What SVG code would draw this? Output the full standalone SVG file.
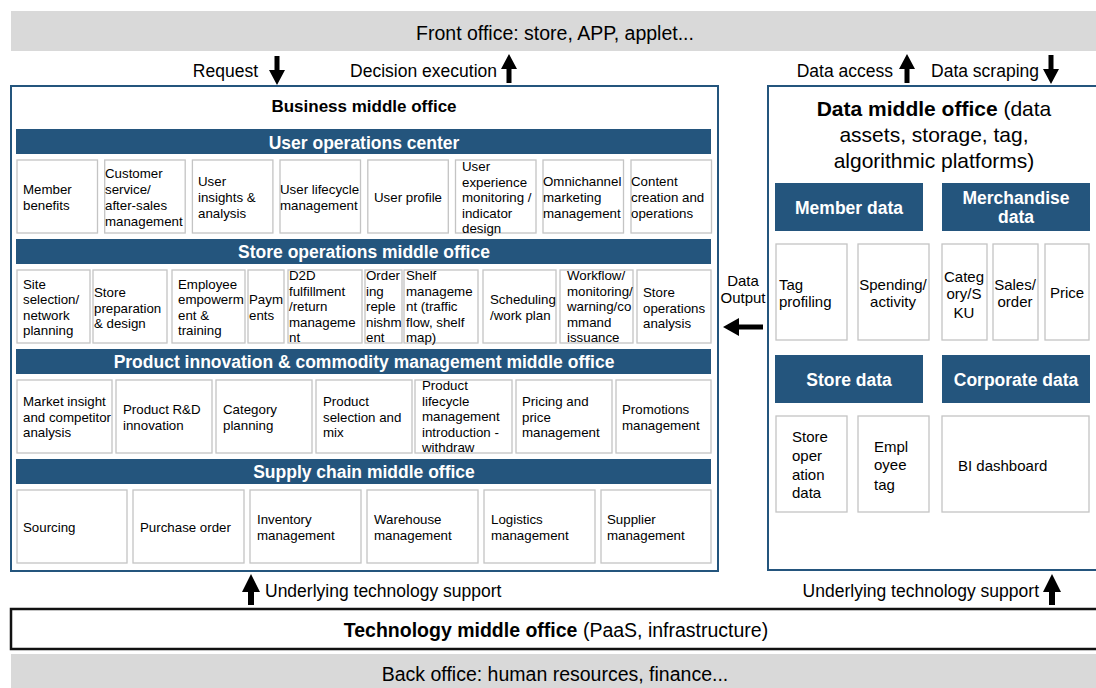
<svg xmlns="http://www.w3.org/2000/svg" width="1096" height="688" viewBox="0 0 1096 688">
<style>
text{font-family:"Liberation Sans",Arial,Helvetica,sans-serif;fill:#000}
.band{fill:#d9d9d9}
.frame{fill:#fff;stroke:#24557d;stroke-width:2}
.hdr{fill:#24557d}
.ht{font-size:17.5px;font-weight:bold;fill:#fff;text-anchor:middle}
.cell{fill:#fff;stroke:#c4c4c4;stroke-width:1.3}
.t{font-size:13.3px}
.d{font-size:15px}
.lbl{font-size:17.5px}
.big{font-size:19.5px}
.arr{fill:#000}
</style>

<g id="front-office">
<rect class="band" x="11" y="11" width="1090" height="40"/>
<text class="big" x="555" y="40" text-anchor="middle">Front office: store, APP, applet...</text>
</g>

<g id="business-middle-office">
<rect class="frame" x="11" y="86" width="707" height="485"/>
<text x="364" y="112" font-size="17px" font-weight="bold" text-anchor="middle">Business middle office</text>
</g>

<g id="user-operations-center">
<rect class="hdr" x="16" y="129" width="695" height="25"/>
<text class="ht" x="364" y="149">User operations center</text>
</g>
<g id="uoc-cells">
<g id="member-benefits"><rect class="cell" x="17" y="160" width="80.5" height="73"/><text class="t"><tspan x="23" y="194">Member</tspan><tspan x="23" y="210">benefits</tspan></text></g>
<g id="customer-service"><rect class="cell" x="104.7" y="160" width="80.5" height="73"/><text class="t"><tspan x="105" y="178">Customer</tspan><tspan x="105" y="194">service/</tspan><tspan x="105" y="210">after-sales</tspan><tspan x="105" y="226">management</tspan></text></g>
<g id="user-insights"><rect class="cell" x="192.4" y="160" width="80.5" height="73"/><text class="t"><tspan x="198" y="186">User</tspan><tspan x="198" y="202">insights &amp;</tspan><tspan x="198" y="218">analysis</tspan></text></g>
<g id="user-lifecycle"><rect class="cell" x="280" y="160" width="80.5" height="73"/><text class="t"><tspan x="280" y="194">User lifecycle</tspan><tspan x="280" y="210">management</tspan></text></g>
<g id="user-profile"><rect class="cell" x="367.8" y="160" width="80.5" height="73"/><text class="t" x="374" y="202">User profile</text></g>
<g id="user-experience"><rect class="cell" x="455.5" y="160" width="80.5" height="73"/><text class="t"><tspan x="462" y="171">User</tspan><tspan x="462" y="186.5">experience</tspan><tspan x="462" y="202">monitoring /</tspan><tspan x="462" y="217.5">indicator</tspan><tspan x="462" y="233">design</tspan></text></g>
<g id="omnichannel"><rect class="cell" x="543" y="160" width="80.5" height="73"/><text class="t"><tspan x="543" y="186">Omnichannel</tspan><tspan x="543" y="202">marketing</tspan><tspan x="543" y="218">management</tspan></text></g>
<g id="content-creation"><rect class="cell" x="631" y="160" width="80.5" height="73"/><text class="t"><tspan x="631" y="186">Content</tspan><tspan x="631" y="202">creation and</tspan><tspan x="631" y="218">operations</tspan></text></g>
</g>

<g id="store-operations-middle-office">
<rect class="hdr" x="16" y="239" width="695" height="25"/>
<text class="ht" x="364" y="258">Store operations middle office</text>
</g>
<g id="som-cells">
<g id="site-selection"><rect class="cell" x="17" y="270" width="73" height="73"/><text class="t"><tspan x="23" y="288.5">Site</tspan><tspan x="23" y="304">selection/</tspan><tspan x="23" y="319.5">network</tspan><tspan x="23" y="335">planning</tspan></text></g>
<g id="store-preparation"><rect class="cell" x="93" y="270" width="74" height="73"/><text class="t"><tspan x="94" y="297">Store</tspan><tspan x="94" y="312.5">preparation</tspan><tspan x="94" y="328">&amp; design</tspan></text></g>
<g id="employee-empowerment"><rect class="cell" x="172" y="270" width="73" height="73"/><text class="t"><tspan x="178" y="288.5">Employee</tspan><tspan x="178" y="304">empowerm</tspan><tspan x="178" y="319.5">ent &amp;</tspan><tspan x="178" y="335">training</tspan></text></g>
<g id="payments"><rect class="cell" x="248" y="270" width="36" height="73"/><text class="t"><tspan x="249" y="304">Paym</tspan><tspan x="249" y="319.5">ents</tspan></text></g>
<g id="d2d"><rect class="cell" x="288" y="270" width="74" height="73"/><text class="t"><tspan x="289" y="280">D2D</tspan><tspan x="289" y="295.5">fulfillment</tspan><tspan x="289" y="311">/return</tspan><tspan x="289" y="326.5">manageme</tspan><tspan x="289" y="342">nt</tspan></text></g>
<g id="ordering"><rect class="cell" x="365" y="270" width="37" height="73"/><text class="t"><tspan x="366" y="280">Order</tspan><tspan x="366" y="295.5">ing</tspan><tspan x="366" y="311">reple</tspan><tspan x="366" y="326.5">nishm</tspan><tspan x="366" y="342">ent</tspan></text></g>
<g id="shelf"><rect class="cell" x="404" y="270" width="74" height="73"/><text class="t"><tspan x="406" y="280">Shelf</tspan><tspan x="406" y="295.5">manageme</tspan><tspan x="406" y="311">nt (traffic</tspan><tspan x="406" y="326.5">flow, shelf</tspan><tspan x="406" y="342">map)</tspan></text></g>
<g id="scheduling"><rect class="cell" x="483" y="270" width="73" height="73"/><text class="t"><tspan x="490" y="304">Scheduling</tspan><tspan x="490" y="319.5">/work plan</tspan></text></g>
<g id="workflow"><rect class="cell" x="560" y="270" width="73" height="73"/><text class="t"><tspan x="567" y="280">Workflow/</tspan><tspan x="567" y="295.5">monitoring/</tspan><tspan x="567" y="311">warning/co</tspan><tspan x="567" y="326.5">mmand</tspan><tspan x="567" y="342">issuance</tspan></text></g>
<g id="store-operations-analysis"><rect class="cell" x="637" y="270" width="74" height="73"/><text class="t"><tspan x="643" y="297">Store</tspan><tspan x="643" y="312.5">operations</tspan><tspan x="643" y="328">analysis</tspan></text></g>
</g>

<g id="product-innovation-middle-office">
<rect class="hdr" x="16" y="349" width="695" height="25"/>
<text class="ht" x="364" y="368">Product innovation &amp; commodity management middle office</text>
</g>
<g id="pim-cells">
<g id="market-insight"><rect class="cell" x="17" y="380" width="95" height="73"/><text class="t"><tspan x="23" y="406">Market insight</tspan><tspan x="23" y="421.5">and competitor</tspan><tspan x="23" y="437">analysis</tspan></text></g>
<g id="product-rd"><rect class="cell" x="116" y="380" width="96" height="73"/><text class="t"><tspan x="123" y="414">Product R&amp;D</tspan><tspan x="123" y="429.5">innovation</tspan></text></g>
<g id="category-planning"><rect class="cell" x="216" y="380" width="96" height="73"/><text class="t"><tspan x="223" y="414">Category</tspan><tspan x="223" y="429.5">planning</tspan></text></g>
<g id="product-selection"><rect class="cell" x="316" y="380" width="96" height="73"/><text class="t"><tspan x="323" y="406">Product</tspan><tspan x="323" y="421.5">selection and</tspan><tspan x="323" y="437">mix</tspan></text></g>
<g id="product-lifecycle"><rect class="cell" x="415" y="380" width="97" height="73"/><text class="t"><tspan x="422" y="390">Product</tspan><tspan x="422" y="405.5">lifecycle</tspan><tspan x="422" y="421">management</tspan><tspan x="422" y="436.5">introduction -</tspan><tspan x="422" y="452">withdraw</tspan></text></g>
<g id="pricing"><rect class="cell" x="516" y="380" width="96" height="73"/><text class="t"><tspan x="522" y="406">Pricing and</tspan><tspan x="522" y="421.5">price</tspan><tspan x="522" y="437">management</tspan></text></g>
<g id="promotions"><rect class="cell" x="616" y="380" width="95" height="73"/><text class="t"><tspan x="622" y="414">Promotions</tspan><tspan x="622" y="429.5">management</tspan></text></g>
</g>

<g id="supply-chain-middle-office">
<rect class="hdr" x="16" y="459" width="695" height="25"/>
<text class="ht" x="364" y="478">Supply chain middle office</text>
</g>
<g id="scm-cells">
<g id="sourcing"><rect class="cell" x="17" y="490" width="110" height="73"/><text class="t" x="23" y="532">Sourcing</text></g>
<g id="purchase-order"><rect class="cell" x="133" y="490" width="111" height="73"/><text class="t" x="140" y="532">Purchase order</text></g>
<g id="inventory"><rect class="cell" x="250" y="490" width="111" height="73"/><text class="t"><tspan x="257" y="524">Inventory</tspan><tspan x="257" y="539.5">management</tspan></text></g>
<g id="warehouse"><rect class="cell" x="367" y="490" width="111" height="73"/><text class="t"><tspan x="374" y="524">Warehouse</tspan><tspan x="374" y="539.5">management</tspan></text></g>
<g id="logistics"><rect class="cell" x="484" y="490" width="111" height="73"/><text class="t"><tspan x="491" y="524">Logistics</tspan><tspan x="491" y="539.5">management</tspan></text></g>
<g id="supplier"><rect class="cell" x="601" y="490" width="110" height="73"/><text class="t"><tspan x="607" y="524">Supplier</tspan><tspan x="607" y="539.5">management</tspan></text></g>
</g>

<g id="data-middle-office">
<rect class="frame" x="768" y="86" width="340" height="484"/>
<text font-size="21px" text-anchor="middle"><tspan x="934" y="116"><tspan font-weight="bold">Data middle office</tspan> (data</tspan><tspan x="934" y="142">assets, storage, tag,</tspan><tspan x="934" y="168">algorithmic platforms)</tspan></text>
</g>
<g id="member-data"><rect class="hdr" x="775" y="183" width="148" height="48"/><text class="ht" x="849" y="214">Member data</text></g>
<g id="merchandise-data"><rect class="hdr" x="942" y="183" width="148" height="48"/><text class="ht"><tspan x="1016" y="204">Merchandise</tspan><tspan x="1016" y="223">data</tspan></text></g>
<g id="tag-profiling"><rect class="cell" x="776" y="244" width="71" height="96"/><text class="d"><tspan x="779" y="290">Tag</tspan><tspan x="779" y="307">profiling</tspan></text></g>
<g id="spending"><rect class="cell" x="858" y="244" width="71" height="96"/><text class="d" text-anchor="middle"><tspan x="893" y="290">Spending/</tspan><tspan x="893" y="307">activity</tspan></text></g>
<g id="category-sku"><rect class="cell" x="942" y="244" width="45" height="96"/><text class="d" text-anchor="middle"><tspan x="964" y="282">Categ</tspan><tspan x="964" y="299">ory/S</tspan><tspan x="964" y="318">KU</tspan></text></g>
<g id="sales-order"><rect class="cell" x="993" y="244" width="45" height="96"/><text class="d" text-anchor="middle"><tspan x="1015" y="290">Sales/</tspan><tspan x="1015" y="307">order</tspan></text></g>
<g id="price"><rect class="cell" x="1045" y="244" width="44" height="96"/><text class="d" x="1067" y="298" text-anchor="middle">Price</text></g>
<g id="store-data"><rect class="hdr" x="775" y="355" width="148" height="48"/><text class="ht" x="849" y="386">Store data</text></g>
<g id="corporate-data"><rect class="hdr" x="942" y="355" width="148" height="48"/><text class="ht" x="1016" y="386">Corporate data</text></g>
<g id="store-operation-data"><rect class="cell" x="776" y="416" width="71" height="96"/><text class="d"><tspan x="792" y="442">Store</tspan><tspan x="792" y="461">oper</tspan><tspan x="792" y="480">ation</tspan><tspan x="792" y="498">data</tspan></text></g>
<g id="employee-tag"><rect class="cell" x="858" y="416" width="71" height="96"/><text class="d"><tspan x="874" y="452">Empl</tspan><tspan x="874" y="470">oyee</tspan><tspan x="874" y="490">tag</tspan></text></g>
<g id="bi-dashboard"><rect class="cell" x="942" y="416" width="147" height="96"/><text class="d" x="958" y="471">BI dashboard</text></g>

<g id="technology-middle-office">
<rect x="11" y="609" width="1100" height="40" fill="#fff" stroke="#111" stroke-width="2.5"/>
<text font-size="19.5px" x="556" y="637" text-anchor="middle"><tspan font-weight="bold">Technology middle office</tspan> (PaaS, infrastructure)</text>
</g>

<g id="back-office">
<rect class="band" x="11" y="654" width="1090" height="40"/>
<text class="big" x="555" y="681" text-anchor="middle">Back office: human resources, finance...</text>
</g>

<g id="connectors">
<path class="arr" d="M274.5 56H279.5V70H285L277 85L269 70H274.5Z"/>
<text class="lbl" x="258" y="77" text-anchor="end">Request</text>
<path class="arr" d="M506.5 83H511.5V69H517L509 54L501 69H506.5Z"/>
<text class="lbl" x="497" y="77" text-anchor="end">Decision execution</text>
<path class="arr" d="M904.5 83H909.5V69H915L907 54L899 69H904.5Z"/>
<text class="lbl" x="893" y="77" text-anchor="end">Data access</text>
<path class="arr" d="M1048.5 55H1053.5V69H1059L1051 84L1043 69H1048.5Z"/>
<text class="lbl" x="1039" y="77" text-anchor="end">Data scraping</text>
<path class="arr" d="M763 324.5V329.5H739V336L723 327L739 318V324.5Z"/>
<text font-size="15px" text-anchor="middle"><tspan x="743" y="286">Data</tspan><tspan x="743" y="303">Output</tspan></text>
<path class="arr" d="M248 605H254V592H260L251 574L242 592H248Z"/>
<text class="lbl" x="265" y="597">Underlying technology support</text>
<path class="arr" d="M1049 605H1055V592H1061L1052 574L1043 592H1049Z"/>
<text class="lbl" x="1039" y="597" text-anchor="end">Underlying technology support</text>
</g>
</svg>
